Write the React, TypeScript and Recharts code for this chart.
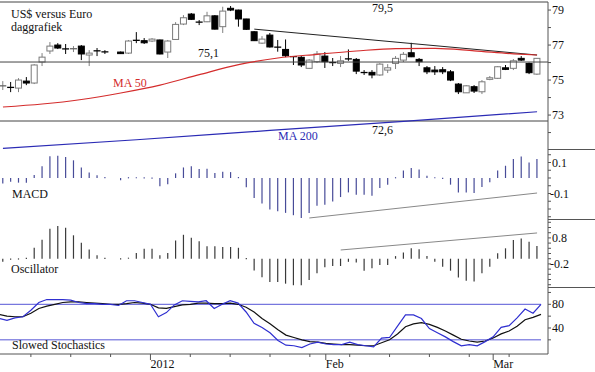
import React from 'react';
import { ComposedChart, Bar, Line, XAxis, YAxis, ReferenceLine } from 'recharts';

// daily candles, index 14 is the holiday gap
const opens = [74.64, 74.58, 74.54, 74.94, 74.83, 76.03, 76.66, 77.0, 76.78, 76.74, 76.94, 76.43, 76.67, 76.61, null,
  76.6, 76.54, 77.27, 77.25, 77.23, 77.29, 76.6, 77.32, 78.2, 78.77, 78.31, 78.33, 78.67, 78.05, 79.1,
  79.0, 78.49, 77.76, 77.11, 77.57, 76.88, 76.75, 76.34, 76.3, 75.67, 76.05, 76.37, 76.0, 75.95, 76.21,
  76.18, 75.43, 75.44, 75.29, 75.57, 75.95, 76.14, 76.56, 76.18, 75.7, 75.57, 75.59, 75.47, 74.77, 74.27,
  74.62, 74.33, 75.04, 75.1, 75.7, 75.67, 76.24, 75.95, 75.34];
const highs = [74.94, 74.89, 75.11, 75.17, 75.91, 76.54, 77.17, 77.11, 77.06, 76.94, 77.0, 76.71, 76.83, 76.71, null,
  76.63, 77.29, 77.74, 77.4, 77.4, 77.31, 77.29, 78.31, 78.71, 78.83, 78.43, 78.9, 78.71, 79.19, 79.23,
  79.02, 78.5, 77.8, 77.51, 77.69, 77.29, 77.32, 76.37, 76.37, 76.2, 76.66, 76.6, 76.26, 76.37, 76.75,
  76.26, 75.57, 75.57, 75.97, 75.91, 76.37, 76.6, 77.13, 76.26, 75.8, 75.8, 75.74, 75.57, 74.83, 74.71,
  74.71, 75.0, 75.23, 75.8, 75.86, 76.2, 76.37, 76.0, 76.26];
const lows = [74.43, 74.31, 74.31, 74.71, 74.77, 75.8, 76.49, 76.77, 76.49, 76.6, 76.14, 75.8, 76.37, 76.49, null,
  76.49, 76.49, 77.11, 77.06, 77.17, 76.47, 76.26, 77.29, 78.14, 78.43, 78.14, 78.31, 77.89, 77.69, 78.94,
  78.05, 77.86, 77.23, 77.06, 76.86, 76.62, 76.31, 75.86, 75.74, 75.63, 75.97, 75.69, 75.8, 75.74, 76.1,
  75.34, 75.29, 75.1, 75.24, 75.4, 75.63, 76.03, 76.31, 75.8, 75.34, 75.29, 75.34, 74.94, 74.2, 74.26,
  74.26, 74.2, 74.99, 75.06, 75.57, 75.57, 76.09, 75.34, 75.29];
const closes = [74.67, 74.55, 75.0, 74.83, 75.86, 76.31, 76.94, 76.83, 76.76, 76.79, 76.49, 76.54, 76.65, 76.59, null,
  76.51, 77.23, 77.25, 77.13, 77.34, 76.49, 77.23, 78.18, 78.56, 78.47, 78.29, 78.67, 77.91, 78.94, 79.0,
  78.49, 77.9, 77.25, 77.34, 76.89, 76.86, 76.39, 76.32, 75.86, 76.14, 76.49, 76.05, 75.98, 76.1, 76.19,
  75.51, 75.41, 75.29, 75.91, 75.7, 76.24, 76.47, 76.33, 76.05, 75.47, 75.47, 75.47, 75.0, 74.33, 74.67,
  74.37, 74.9, 75.13, 75.76, 75.61, 76.1, 76.14, 75.42, 76.24];

// moving averages, read at a few days
const ma50Points = [[0, 73.46], [5, 73.63], [10, 73.89], [15, 74.26], [20, 74.71], [25, 75.31], [30, 75.88],
  [35, 76.26], [40, 76.47], [45, 76.66], [50, 76.8], [55, 76.81], [60, 76.67], [65, 76.5], [68, 76.43]];
const ma200Points = [[0, 71.1], [17, 71.59], [34, 72.12], [51, 72.64], [68, 73.19]];

const macd = [-0.035, -0.025, -0.03, -0.03, 0.02, 0.075, 0.14, 0.144, 0.135, 0.114, 0.068, 0.036, 0.018, 0.006, null,
  -0.015, 0.003, 0.003, 0.002, -0.003, -0.054, -0.04, 0.03, 0.068, 0.075, 0.058, 0.06, 0.032, 0.04, 0.038,
  0.005, -0.059, -0.129, -0.165, -0.204, -0.215, -0.225, -0.24, -0.258, -0.226, -0.179, -0.172, -0.151, -0.123, -0.093,
  -0.108, -0.108, -0.114, -0.065, -0.043, 0.003, 0.049, 0.065, 0.054, 0.015, 0.003, -0.005, -0.043, -0.093, -0.093,
  -0.097, -0.058, -0.028, 0.049, 0.079, 0.122, 0.139, 0.1, 0.122];
const osc = [-0.12, -0.03, -0.02, 0.02, 0.42, 0.73, 1.15, 1.26, 1.19, 0.9, 0.61, 0.35, 0.13, 0.03, null,
  -0.02, 0.04, 0.22, 0.38, 0.38, 0.13, 0.22, 0.7, 0.92, 0.81, 0.67, 0.48, 0.48, 0.45, 0.45,
  0.42, 0.0, -0.45, -0.71, -0.9, -0.9, -0.96, -1.02, -1.02, -0.82, -0.56, -0.33, -0.28, -0.28, -0.12,
  -0.15, -0.46, -0.37, -0.24, -0.24, 0.1, 0.24, 0.4, 0.36, 0.1, -0.12, -0.31, -0.46, -0.72, -0.85,
  -0.88, -0.56, -0.31, 0.21, 0.4, 0.72, 0.78, 0.65, 0.49];
const stochK = [56, 53, 57, 59, 70, 83, 88, 88, 88, 87, 83, 81, 81, 80, 80, 78, 86, 86, 83, 80,
  59, 66, 79, 86, 85, 84, 86, 73, 80, 86, 82, 67, 48, 41, 32, 19, 11, 10, 7, 13,
  16, 13, 12, 12, 16, 12, 10, 8, 23, 24, 43, 62, 62, 56, 39, 32, 25, 17, 10, 12,
  10, 17, 25, 41, 44, 57, 72, 65, 80];
const stochD = [63, 60, 59, 59, 65, 73, 77, 80, 83, 84, 84, 83, 82, 81, 80, 80, 81, 83, 82, 80,
  74, 73, 76, 79, 80, 82, 82, 81, 81, 82, 80, 75, 67, 56, 47, 37, 28, 24, 20, 17,
  16, 14, 13, 12, 12, 11, 10, 10, 15, 20, 30, 42, 47, 49, 46, 41, 35, 28, 21, 18,
  16, 18, 23, 30, 35, 43, 54, 58, 63];

const priceTrend = [[32, 77.91], [68, 76.43]];
const macdTrend = [[39, -0.258], [68, -0.097]];
const oscTrend = [[43, 0.335], [68, 0.99]];
const priceLevels = [79.46, 76.03, 72.66];
const stochLevels = [80, 20];

const weekTicks = [4, 9, 14, 19, 24, 29, 34, 39, 44, 49, 54, 59, 64];
const monthTicks = [19, 41, 62];
const monthLabels = ['2012', 'Feb', 'Mar'];

const priceTicks = [72, 73, 74, 75, 76, 77, 78, 79];
const priceLabels = [73, 75, 77, 79];
const macdTicks = [0.15, 0.1, 0.05, 0, -0.05, -0.1, -0.15, -0.2, -0.25];
const macdLabels = [0.1, -0.1];
const oscTicks = [1.4, 1.2, 1.0, 0.8, 0.6, 0.4, 0.2, 0, -0.2, -0.4, -0.6, -0.8, -1.0];
const oscLabels = [0.8, -0.2];
const stochTicks = [100, 80, 60, 40, 20];
const stochLabels = [80, 40];

const font = '"Liberation Serif", "Times New Roman", serif';
const axisColor = '#555';
const X_PAD = { left: -1, right: 7 };

const pick = (pts: number[][], i: number) => {
  const p = pts.find((q) => q[0] === i);
  return p ? p[1] : null;
};

const rows = opens.map((o, i) => ({
  i,
  open: o,
  high: highs[i],
  low: lows[i],
  close: closes[i],
  ma50: pick(ma50Points, i),
  ma200: pick(ma200Points, i),
  macd: macd[i],
  osc: osc[i],
  k: stochK[i],
  d: stochD[i],
}));

function Candle(props: any) {
  const { x, y, width, height, payload } = props;
  if (payload.open == null || !Number.isFinite(y) || !Number.isFinite(height)) return <g />;
  const cx = x + width / 2;
  const range = payload.high - payload.low;
  const unit = range > 0 ? height / range : 0;
  const yO = y + (payload.high - payload.open) * unit;
  const yC = y + (payload.high - payload.close) * unit;
  const up = payload.close >= payload.open;
  const top = Math.min(yO, yC);
  const h = Math.abs(yO - yC);
  const wick = up ? '#808080' : '#000';
  if (h < 1.2) {
    return (
      <g>
        <line x1={cx} x2={cx} y1={y} y2={y + height} stroke={wick} strokeWidth={1} />
        <line x1={cx - 3.5} x2={cx + 3.5} y1={top} y2={top} stroke={up ? '#666' : '#000'} strokeWidth={1.3} />
      </g>
    );
  }
  return (
    <g>
      <line x1={cx} x2={cx} y1={y} y2={y + height} stroke={wick} strokeWidth={1} />
      <rect x={cx - 3} y={top} width={6} height={h} fill={up ? '#fff' : '#000'} stroke={up ? '#7a7a7a' : '#000'} strokeWidth={1} />
    </g>
  );
}

function Stick(props: any) {
  const { x, y, width, height, fill, value } = props;
  if (value == null || !Number.isFinite(y) || !Number.isFinite(height)) return <g />;
  const cx = x + width / 2;
  let y1 = y;
  let y2 = y + height;
  if (Math.abs(height) < 1) {
    const mid = (y1 + y2) / 2;
    y1 = mid - 0.6;
    y2 = mid + 0.6;
  }
  return <line x1={cx} x2={cx} y1={y1} y2={y2} stroke={fill} strokeWidth={1.2} />;
}

const makeTick = (labelled: number[]) => (props: any) => {
  const { x, y, payload } = props;
  const v = payload.value;
  if (!labelled.some((l) => Math.abs(l - v) < 1e-6)) return <g />;
  return (
    <text x={v < 0 ? x - 2 : x} y={y} dy="0.35em" fontSize={12} fontFamily={font} fill="#111">
      {String(v)}
    </text>
  );
};

function DateTick(props: any) {
  const { x, y, payload } = props;
  const m = monthTicks.indexOf(payload.value);
  return (
    <g>
      <line x1={x} x2={x} y1={y} y2={y + (m >= 0 ? 6 : 3)} stroke={axisColor} />
      {m >= 0 && (
        <text x={x} y={y + 14} fontSize={12} fontFamily={font} fill="#111">
          {monthLabels[m]}
        </text>
      )}
    </g>
  );
}

const yAxisCommon = {
  orientation: 'right' as const,
  width: 47,
  allowDataOverflow: true,
  interval: 0 as const,
  tickSize: 3,
  tickMargin: 1,
  axisLine: { stroke: axisColor },
  tickLine: { stroke: axisColor },
  type: 'number' as const,
};

const hiddenX = <XAxis dataKey="i" type="category" padding={X_PAD} hide />;

export default function App() {
  const allTicks = Array.from(new Set([...weekTicks, ...monthTicks])).sort((a, b) => a - b);
  return (
    <div style={{ position: 'absolute', left: 0, top: 0, width: 595, height: 372, background: '#fff', fontFamily: font }}>
      {/* price panel */}
      <div style={{ position: 'absolute', left: 0, top: 0 }}>
        <ComposedChart width={595} height={149} data={rows} margin={{ top: 2, right: 0, bottom: 0, left: 0 }}>
          {hiddenX}
          <YAxis {...yAxisCommon} domain={[71.06, 79.46]} ticks={priceTicks} tick={makeTick(priceLabels)} />
          {priceLevels.map((v) => (
            <ReferenceLine key={v} y={v} stroke="#444" strokeWidth={1} />
          ))}
          <ReferenceLine
            segment={[{ x: priceTrend[0][0], y: priceTrend[0][1] }, { x: priceTrend[1][0], y: priceTrend[1][1] }]}
            stroke="#222"
            strokeWidth={1}
            ifOverflow="visible"
          />
          <Line dataKey="ma200" stroke="#2b2bb5" strokeWidth={1.2} dot={false} connectNulls type="monotone" isAnimationActive={false} />
          <Line dataKey="ma50" stroke="#d42c2c" strokeWidth={1.2} dot={false} connectNulls type="monotone" isAnimationActive={false} />
          <Bar
            dataKey={(d: any) => (d.open == null ? null : [d.low, d.high])}
            shape={<Candle />}
            isAnimationActive={false}
          />
        </ComposedChart>
      </div>

      {/* MACD panel */}
      <div style={{ position: 'absolute', left: 0, top: 149 }}>
        <ComposedChart width={595} height={70} data={rows} margin={{ top: 0, right: 0, bottom: 0, left: 0 }}>
          {hiddenX}
          <YAxis {...yAxisCommon} domain={[-0.2645, 0.187]} ticks={macdTicks} tick={makeTick(macdLabels)} />
          <Bar dataKey="macd" fill="#474b98" shape={<Stick />} isAnimationActive={false} />
          <ReferenceLine
            segment={[{ x: macdTrend[0][0], y: macdTrend[0][1] }, { x: macdTrend[1][0], y: macdTrend[1][1] }]}
            stroke="#888"
            strokeWidth={1}
            ifOverflow="visible"
          />
        </ComposedChart>
      </div>

      {/* oscillator panel */}
      <div style={{ position: 'absolute', left: 0, top: 219 }}>
        <ComposedChart width={595} height={68} data={rows} margin={{ top: 0, right: 0, bottom: 0, left: 0 }}>
          {hiddenX}
          <YAxis {...yAxisCommon} domain={[-1.088, 1.527]} ticks={oscTicks} tick={makeTick(oscLabels)} />
          <Bar dataKey="osc" fill="#3a3a3a" shape={<Stick />} isAnimationActive={false} />
          <ReferenceLine
            segment={[{ x: oscTrend[0][0], y: oscTrend[0][1] }, { x: oscTrend[1][0], y: oscTrend[1][1] }]}
            stroke="#888"
            strokeWidth={1}
            ifOverflow="visible"
          />
        </ComposedChart>
      </div>

      {/* slowed stochastics panel */}
      <div style={{ position: 'absolute', left: 0, top: 287 }}>
        <ComposedChart width={595} height={85} data={rows} margin={{ top: 0, right: 0, bottom: 0, left: 0 }}>
          <XAxis
            dataKey="i"
            type="category"
            padding={X_PAD}
            ticks={allTicks}
            interval={0}
            tickSize={0}
            tickMargin={0}
            tickLine={false}
            axisLine={{ stroke: axisColor }}
            height={18}
            tick={<DateTick />}
          />
          <YAxis {...yAxisCommon} domain={[-3.9, 109.2]} ticks={stochTicks} tick={makeTick(stochLabels)} />
          {stochLevels.map((v) => (
            <ReferenceLine key={v} segment={[{ x: 0, y: v }, { x: 68, y: v }]} stroke="#5656d6" strokeWidth={1} />
          ))}
          <Line dataKey="d" stroke="#111" strokeWidth={1.2} dot={false} type="linear" isAnimationActive={false} />
          <Line dataKey="k" stroke="#2f2fd0" strokeWidth={1.2} dot={false} type="linear" isAnimationActive={false} />
        </ComposedChart>
      </div>

      {/* titles, annotations and panel separators */}
      <svg width={595} height={372} style={{ position: 'absolute', left: 0, top: 0, pointerEvents: 'none' }}>
        <g fontFamily={font} fontSize={12} fill="#111">
          <text x={11} y={18}>US$ versus Euro</text>
          <text x={11} y={31}>daggrafiek</text>
          <text x={198} y={57}>75,1</text>
          <text x={372} y={12}>79,5</text>
          <text x={372} y={134}>72,6</text>
          <text x={113} y={87} fill="#d42c2c">MA 50</text>
          <text x={278} y={140} fill="#2b2bb5">MA 200</text>
          <text x={12} y={198}>MACD</text>
          <text x={11} y={273}>Oscillator</text>
          <text x={12} y={349}>Slowed Stochastics</text>
        </g>
        {[149, 219, 287].map((y) => (
          <line key={y} x1={548} x2={595} y1={y + 0.5} y2={y + 0.5} stroke={axisColor} />
        ))}
      </svg>
    </div>
  );
}
